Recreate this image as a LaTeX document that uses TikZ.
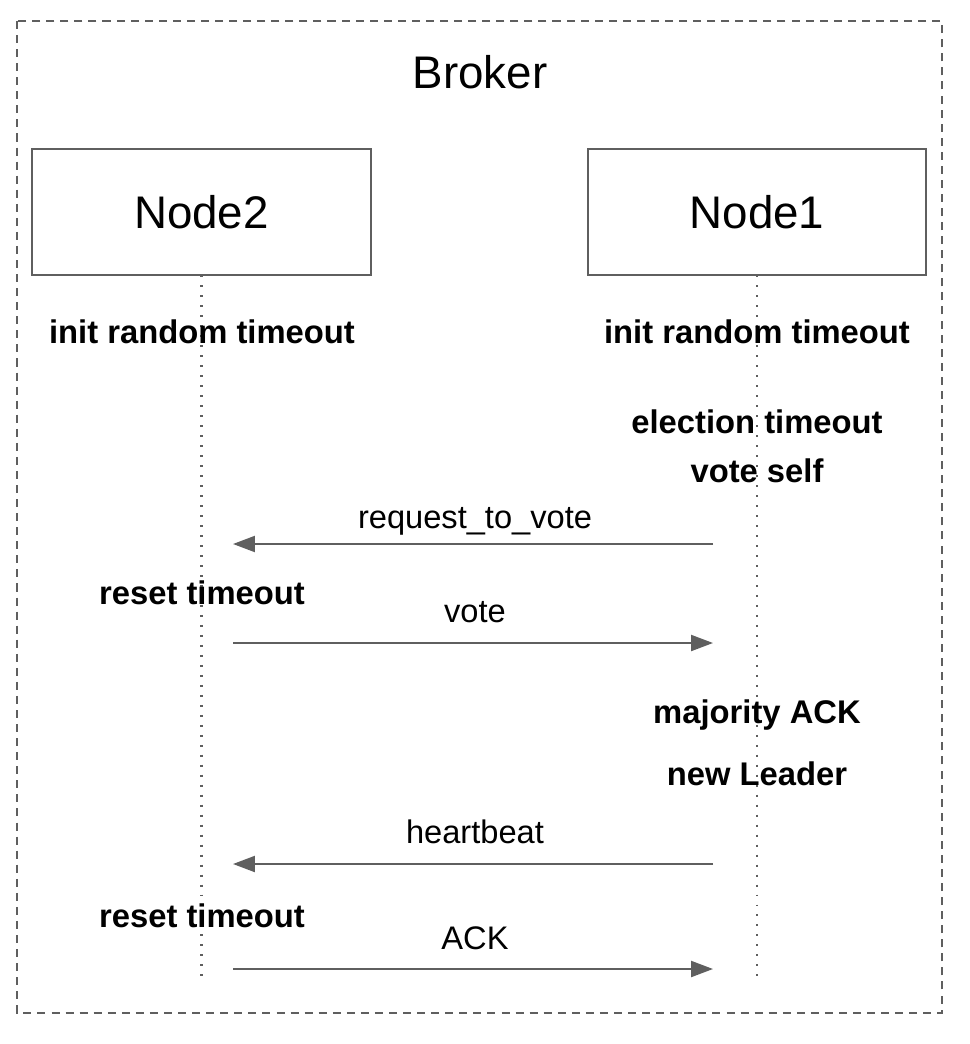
\documentclass[tikz,border=0pt]{standalone}
\usepackage{fontspec}
\setmainfont{Liberation Sans}
\usetikzlibrary{arrows.meta}
\definecolor{linegray}{HTML}{5F5F5F}

\begin{document}
\begin{tikzpicture}[x=0.025cm, y=-0.025cm,
  box/.style={rectangle, draw=linegray, line width=1.4pt, minimum width=8.45cm,
                        minimum height=3.125cm, font=\fontsize{32.5}{39}\selectfont},
  lbl/.style={anchor=base, font=\fontsize{23.3}{28}\selectfont\bfseries},
  msglbl/.style={anchor=base, font=\fontsize{23.2}{28}\selectfont},
  life/.style={draw=linegray, line width=1.5pt, dash pattern=on 1.4pt off 5.7pt},
  msg/.style={draw=linegray, line width=1.4pt, -{Triangle[length=15.6pt, width=11.4pt]}}]

\useasboundingbox (0,0) rectangle (970,1044);

% broker frame
\draw[linegray, line width=1.5pt, dash pattern=on 5.7pt off 4.3pt] (17,21) rectangle (942,1013);
\node[anchor=base, font=\fontsize{32.5}{39}\selectfont](broker) at (480,89) {Broker};

% the two nodes and their lifelines
\node[box](n2) at (201.5,212) {Node2};
\node[box](n1) at (757,212) {Node1};

\coordinate (e2) at (201.5,978);
\coordinate (e1) at (757,978);
\draw[life] (n2.south) -- (e2);
\draw[life] (n1.south) -- (e1);

% states
\node[lbl](init2) at (202,343) {init random timeout};
\node[lbl](init1) at (757,343) {init random timeout};
\node[lbl](elect) at (757,433) {election timeout};
\node[lbl](self) at (757,482) {vote self};
\node[lbl](reset1) at (202,604) {reset timeout};
\node[lbl](major) at (757,723) {majority ACK};
\node[lbl](leader) at (757,785) {new Leader};
\node[lbl](reset2) at (202,927) {reset timeout};

% messages
\coordinate (rq1) at (713,544);
\coordinate (rq2) at (233,544);
\draw[msg] (rq1) -- (rq2);
\node[msglbl](rqlbl) at (475,528) {request\_to\_vote};

\coordinate (vt2) at (233,643);
\coordinate (vt1) at (713,643);
\draw[msg] (vt2) -- (vt1);
\node[msglbl](vtlbl) at (475,622) {vote};

\coordinate (hb1) at (713,864);
\coordinate (hb2) at (233,864);
\draw[msg] (hb1) -- (hb2);
\node[msglbl](hblbl) at (475,843) {heartbeat};

\coordinate (ack2) at (233,969);
\coordinate (ack1) at (713,969);
\draw[msg] (ack2) -- (ack1);
\node[msglbl](acklbl) at (475,949) {ACK};

\end{tikzpicture}
\end{document}
